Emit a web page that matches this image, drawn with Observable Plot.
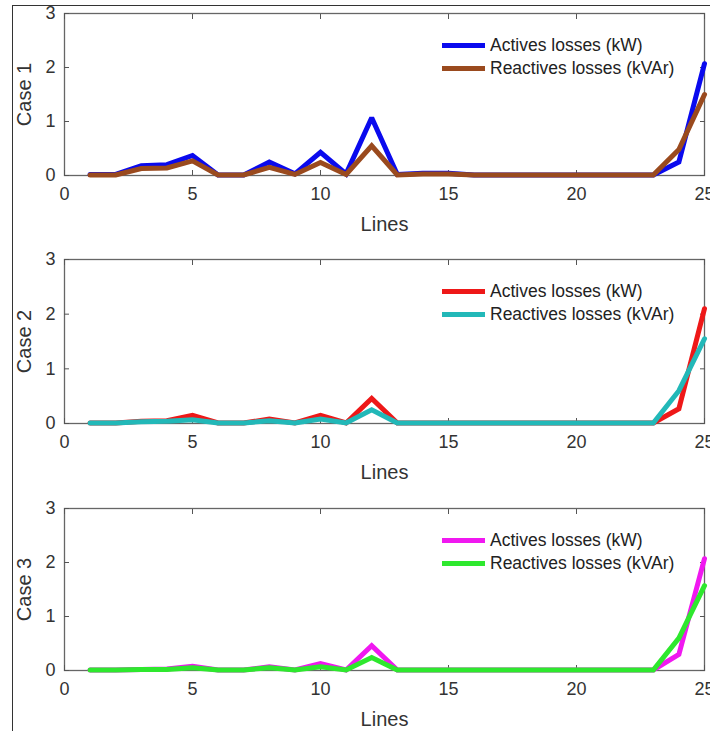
<!DOCTYPE html>
<html>
<head>
<meta charset="utf-8">
<script src="https://cdn.jsdelivr.net/npm/d3@7"></script>
<script src="https://cdn.jsdelivr.net/npm/@observablehq/plot@0.6"></script>
<style>
  html, body { margin: 0; padding: 0; background: #fff; }
  #fig { position: relative; width: 710px; height: 731px; overflow: hidden; background: #fff;
         font-family: "Liberation Sans", Arial, sans-serif; }
  .panel { position: absolute; left: 0; }
  .outer { position: absolute; left: 12px; top: 5px; width: 720px; height: 740px;
           border-left: 1.5px solid #333; border-top: 1.5px solid #333; box-sizing: border-box; pointer-events: none; }
  .legend { position: absolute; left: 442px; }
  .legend .row { position: absolute; left: 0; height: 0; white-space: nowrap; }
  .legend .swatch { position: absolute; left: 0; width: 43px; height: 5px; top: -2.5px; }
  .legend .txt { position: absolute; left: 48px; top: -11px; font-size: 17.5px; line-height: 22px; color: #222; }
</style>
</head>
<body>
<div id="fig"></div>
<script>
// ---- data ----
const lines = [1,2,3,4,5,6,7,8,9,10,11,12,13,14,15,16,17,18,19,20,21,22,23,24,25];

const case1Active   = [0.02,0.02,0.18,0.20,0.37,0.01,0.01,0.25,0.03,0.43,0.03,1.07,0.02,0.04,0.04,0.01,0.01,0.01,0.01,0.01,0.01,0.01,0.01,0.25,2.07];
const case1Reactive = [0.01,0.01,0.13,0.14,0.27,0.01,0.01,0.15,0.02,0.24,0.02,0.55,0.01,0.03,0.03,0.01,0.01,0.01,0.01,0.01,0.01,0.01,0.01,0.48,1.50];

const case2Active   = [0.01,0.01,0.04,0.05,0.15,0.01,0.01,0.08,0.01,0.15,0.01,0.46,0.01,0.01,0.01,0.01,0.01,0.01,0.01,0.01,0.01,0.01,0.01,0.27,2.10];
const case2Reactive = [0.01,0.01,0.03,0.04,0.07,0.01,0.01,0.05,0.01,0.08,0.01,0.25,0.01,0.01,0.01,0.01,0.01,0.01,0.01,0.01,0.01,0.01,0.01,0.60,1.55];

const case3Active   = [0.01,0.01,0.02,0.03,0.08,0.01,0.01,0.07,0.01,0.13,0.01,0.46,0.01,0.01,0.01,0.01,0.01,0.01,0.01,0.01,0.01,0.01,0.01,0.30,2.07];
const case3Reactive = [0.01,0.01,0.02,0.02,0.05,0.01,0.01,0.05,0.01,0.07,0.01,0.24,0.01,0.01,0.01,0.01,0.01,0.01,0.01,0.01,0.01,0.01,0.01,0.60,1.57];

const caseLabels = ["Case 1", "Case 2", "Case 3"];
const seriesNames = ["Actives losses (kW)", "Reactives losses (kVAr)"];
const xTicks = [0, 5, 10, 15, 20, 25];
const yTicks = [0, 1, 2, 3];
const xLabel = "Lines";

const panelColors = [
  ["#0a0aee", "#9a4a1e"],
  ["#ee1818", "#22b8b8"],
  ["#f018f0", "#2ee82e"]
];
const panelSeries = [
  [case1Active, case1Reactive],
  [case2Active, case2Reactive],
  [case3Active, case3Reactive]
];

// layout
const panelTop = [0, 246, 495];
const plotH = [162, 164, 162];
const mTop = 13, mBottom = 60, mLeft = 64, mRight = 6;

const fig = document.getElementById("fig");
const fmt = d3.format("d");

panelSeries.forEach((series, i) => {
  const rows = series.map(vals => lines.map((l, j) => ({line: l, value: vals[j]})));
  const tickStyle = {stroke: "#555", strokeWidth: 1};
  const plot = Plot.plot({
    width: 710,
    height: mTop + plotH[i] + mBottom,
    marginTop: mTop, marginBottom: mBottom, marginLeft: mLeft, marginRight: mRight,
    style: {fontFamily: '"Liberation Sans", Arial, sans-serif', color: "#333", background: "transparent", overflow: "visible"},
    x: {domain: [0, 25]},
    y: {domain: [0, 3]},
    marks: [
      Plot.frame({stroke: "#666", strokeWidth: 1.3}),
      // tick labels
      Plot.axisX({ticks: xTicks, tickSize: 0, tickPadding: 12, tickFormat: fmt, label: null, fontSize: 18, fill: "#333"}),
      Plot.axisY({ticks: yTicks, tickSize: 0, tickPadding: 9, tickFormat: fmt, label: null, fontSize: 18, fill: "#333"}),
      // inward ticks
      Plot.axisX({ticks: xTicks, tickSize: -5, tickFormat: () => "", label: null, ...tickStyle}),
      Plot.axisX({anchor: "top", ticks: xTicks, tickSize: -5, tickFormat: () => "", label: null, ...tickStyle}),
      Plot.axisY({ticks: yTicks, tickSize: -5, tickFormat: () => "", label: null, ...tickStyle}),
      Plot.axisY({anchor: "right", ticks: yTicks, tickSize: -5, tickFormat: () => "", label: null, ...tickStyle}),
      // axis titles
      Plot.axisX({ticks: [], tickSize: 0, label: xLabel, labelAnchor: "center", labelArrow: "none", labelOffset: 55, fontSize: 20, fill: "#333"}),
      Plot.axisY({ticks: [], tickSize: 0, label: caseLabels[i], labelAnchor: "center", labelArrow: "none", labelOffset: 48, fontSize: 20, fill: "#333"}),
      // data lines
      Plot.line(rows[0], {x: "line", y: "value", stroke: panelColors[i][0], strokeWidth: 5, strokeLinejoin: "miter", strokeMiterlimit: 2}),
      Plot.line(rows[1], {x: "line", y: "value", stroke: panelColors[i][1], strokeWidth: 5, strokeLinejoin: "miter", strokeMiterlimit: 2})
    ]
  });
  const wrap = document.createElement("div");
  wrap.className = "panel";
  wrap.style.top = panelTop[i] + "px";
  wrap.appendChild(plot);
  fig.appendChild(wrap);

  // legend (inside top-right of the axes)
  const leg = document.createElement("div");
  leg.className = "legend";
  leg.style.top = (panelTop[i] + mTop) + "px";
  seriesNames.forEach((name, k) => {
    const row = document.createElement("div");
    row.className = "row";
    row.style.top = (32 + 23 * k) + "px";
    const sw = document.createElement("div");
    sw.className = "swatch";
    sw.style.background = panelColors[i][k];
    const tx = document.createElement("div");
    tx.className = "txt";
    tx.textContent = name;
    row.appendChild(sw);
    row.appendChild(tx);
    leg.appendChild(row);
  });
  fig.appendChild(leg);
});

const outer = document.createElement("div");
outer.className = "outer";
fig.appendChild(outer);
</script>
</body>
</html>
